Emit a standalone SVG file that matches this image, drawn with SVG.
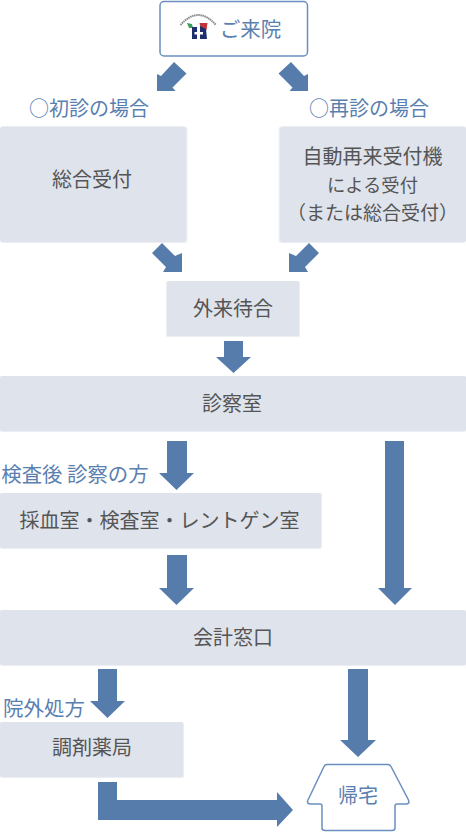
<svg xmlns="http://www.w3.org/2000/svg" width="466" height="832" viewBox="0 0 466 832">
<style>
text{font-family:"Noto Sans CJK JP","Noto Sans",sans-serif;text-anchor:middle}
.box{fill:#dfe3ec}
.sh{fill:#eceef3}
.t{fill:#555;font-size:20px}
.l{fill:#5a80b0;font-size:20px}
.a{fill:#567cac}
.o{fill:#fff;stroke:#6a8fbe;stroke-width:1.5}
</style>
<g id="connectors" class="a">
<polygon points="174,62 186.500,73.500 172.500,87.500 175.500,91 157,91 157,74 161,76"/>
<polygon points="291,62 278.500,73.500 292.500,87.500 289.500,91 308,91 308,74 304,76"/>
<polygon points="162,243 175,256 182,253 182,272 163,272 166,267 152,253"/>
<polygon points="309,243 296,256 289,253 289,272 308,272 305,267 319,253"/>
<polygon points="224,341 243,341 243,357 251,357 233.500,373 216,357 224,357"/>
<polygon points="167,441 187,441 187,473 194,473 176.500,490 159,473 167,473"/>
<polygon points="167,555 187,555 187,588 194,588 176.500,605 159,588 167,588"/>
<polygon points="385,441 404,441 404,588 412,588 395,605 378,588 385,588"/>
<polygon points="98,669 117,669 117,701 125,701 107.500,718 90,701 98,701"/>
<polygon points="348,669 368,669 368,740 376,740 358,757 340,740 348,740"/>
<polygon points="98,782 117,782 117,800 277,800 277,792 293,810 277,827 277,820 98,820"/>
</g>
<g id="n-start">
<rect class="o" x="160" y="1.500" width="147.500" height="54.500" rx="4"/>
<g id="logo">
<path d="M180.500,25 Q198,5 216,25" fill="none" stroke="#888" stroke-width="2" stroke-dasharray="1.500 .6"/>
<path d="M187,23 L192,24 L193,28 L189,28 Z" fill="#3f9d5a"/>
<path d="M199.500,23 H207.500 L206.500,30 H201 Z" fill="#c0343a"/>
<path d="M192,27 H197 V30 H200 V26 L206,29 L207,39 H200 V37 H197 V39 H192 Z" fill="#1f2f6e"/>
<path d="M197,29.500 H200 V32 H203 V34.500 H200 V37 H197 V34.500 H194.500 V32 H197 Z" fill="#fff"/>
</g>
<text x="250.500" y="37" fill="#5a80b0" style="font-size:20.500px">ご来院</text>
</g>
<text class="l" x="89" y="115.500" style="font-size:20px">○初診の場合</text>
<text class="l" x="369" y="115.500" style="font-size:20px">○再診の場合</text>
<g id="n-first">
<rect class="sh" x="0" y="126.500" width="187.500" height="116.500" rx="3"/>
<rect class="box" x="0" y="126.500" width="186" height="115.500" rx="3"/>
<text class="t" x="92" y="187">総合受付</text>
</g>
<g id="n-return">
<rect class="sh" x="278.500" y="126.500" width="187.500" height="116.500" rx="3"/>
<rect class="box" x="280" y="126.500" width="186" height="115.500" rx="3"/>
<text class="t" x="372.500" y="164">自動再来受付機</text>
<text class="t" x="372.500" y="192" style="font-size:18.300px">による受付</text>
<text class="t" x="372.500" y="220" style="font-size:19px">（または総合受付）</text>
</g>
<g id="n-wait">
<rect class="sh" x="166" y="281" width="134" height="56" rx="2"/>
<rect class="box" x="167" y="281" width="132" height="55" rx="2"/>
<text class="t" x="233" y="316">外来待合</text>
</g>
<g id="n-exam">
<rect class="sh" x="0" y="376" width="466" height="56" rx="2"/>
<rect class="box" x="0" y="376" width="466" height="55" rx="2"/>
<text class="t" x="232" y="411">診察室</text>
</g>
<text class="l" x="75" y="481.500" style="font-size:20.400px">検査後 診察の方</text>
<g id="n-lab">
<rect class="sh" x="0" y="493" width="322" height="56" rx="2"/>
<rect class="box" x="0" y="493" width="321" height="55" rx="2"/>
<text class="t" x="159.500" y="528">採血室・検査室・レントゲン室</text>
</g>
<g id="n-pay">
<rect class="sh" x="0" y="610" width="466" height="56" rx="2"/>
<rect class="box" x="0" y="610" width="466" height="55" rx="2"/>
<text class="t" x="233" y="645">会計窓口</text>
</g>
<text class="l" x="44" y="715.500" style="font-size:20.500px">院外処方</text>
<g id="n-pharmacy">
<rect class="sh" x="0" y="722" width="184" height="56" rx="2"/>
<rect class="box" x="0" y="722" width="183" height="55" rx="2"/>
<text class="t" x="92" y="755">調剤薬局</text>
</g>
<g id="n-home">
<path class="o" d="M327,764.500 H388 Q390,764.500 391,766.500 L408.500,800 Q410,804 406,804 H397 Q395,804 395,806 V828 Q395,830.500 392,830.500 H325 Q322,830.500 322,828 V806 Q322,804 320,804 H311 Q306,804 308,800 L324,766.500 Q325,764.500 327,764.500 Z"/>
<text x="358" y="803" fill="#5a80b0" style="font-size:20px">帰宅</text>
</g>
</svg>
